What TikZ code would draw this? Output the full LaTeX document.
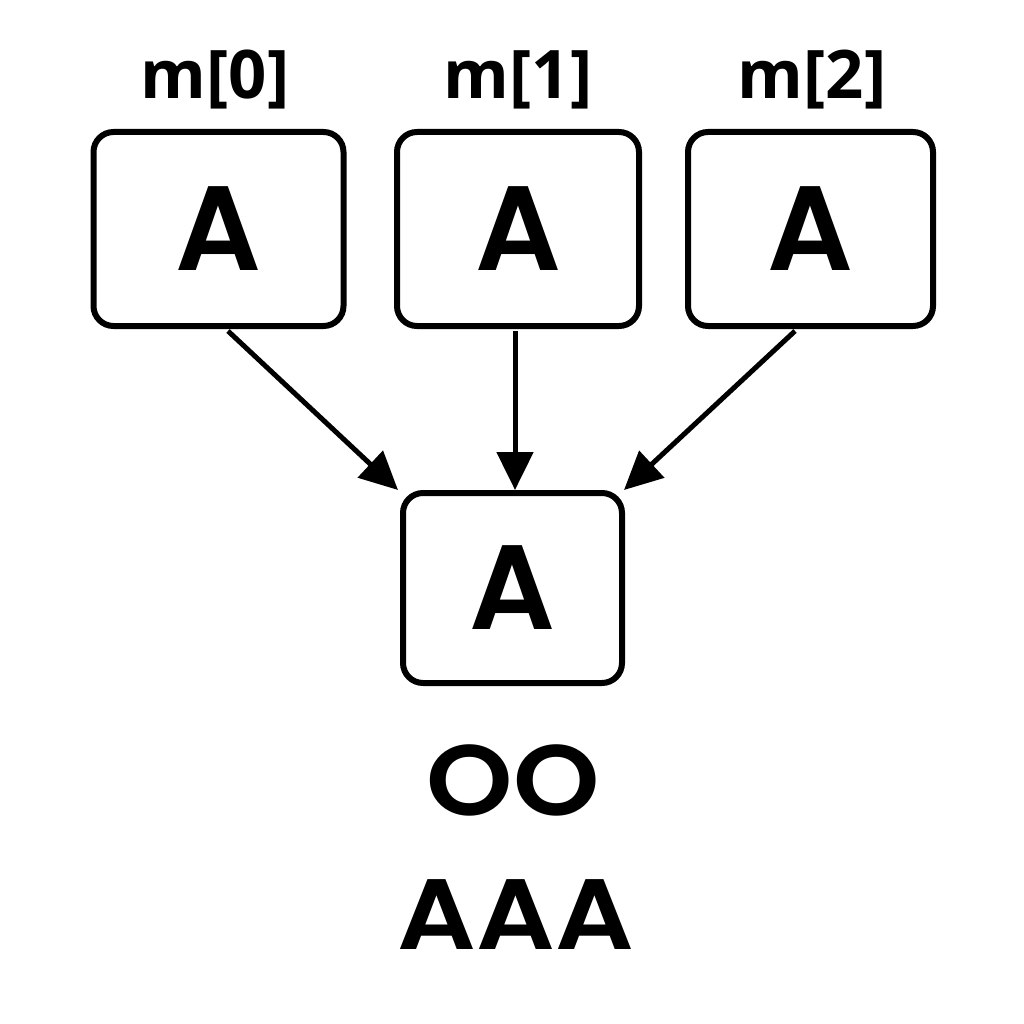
\documentclass[tikz,border=0pt]{standalone}
\usepackage{fontspec}
\setmainfont{Poppins}[BoldFont={Poppins SemiBold}]
\newfontfamily\lblfont{Open Sans}
\usetikzlibrary{arrows.meta}
\begin{document}
\begin{tikzpicture}[x=1pt,y=-1pt,
  box/.style={draw,line width=6pt,rounded corners=20pt,inner sep=0pt,font=\fontsize{120}{120}\selectfont\bfseries},
  lbl/.style={inner sep=0pt,font=\lblfont\fontsize{67}{67}\selectfont\bfseries},
  big/.style={inner sep=0pt,xscale=1.1,transform shape,font=\fontsize{100}{100}\selectfont\bfseries},
  arr/.style={line width=5pt,-{Triangle[length=38pt,width=36pt]}}]
\useasboundingbox (0,0) rectangle (1024,1024);
\node[box,minimum width=250pt,minimum height=194pt] (b0) at (218.5,229) {A};
\node[box,minimum width=242pt,minimum height=194pt] (b1) at (518,229) {A};
\node[box,minimum width=245pt,minimum height=194pt] (b2) at (810.5,229) {A};
\node[box,minimum width=219pt,minimum height=190pt] (c) at (512.5,588) {A};
\node[lbl] (l0) at (215,80) {m[0]};
\node[lbl] (l1) at (518,80) {m[1]};
\node[lbl] (l2) at (812,80) {m[2]};
\node[big] (t1) at (513,780) {OO};
\node[big] (t2) at (516,915) {AAA};
\coordinate (s0) at (228,331);
\coordinate (s1) at (515,331);
\coordinate (s2) at (795,331);
\coordinate (e0) at (398,490);
\coordinate (e1) at (515,490);
\coordinate (e2) at (624,490);
\draw[arr] (s0) -- (e0);
\draw[arr] (s1) -- (e1);
\draw[arr] (s2) -- (e2);
\end{tikzpicture}
\end{document}
